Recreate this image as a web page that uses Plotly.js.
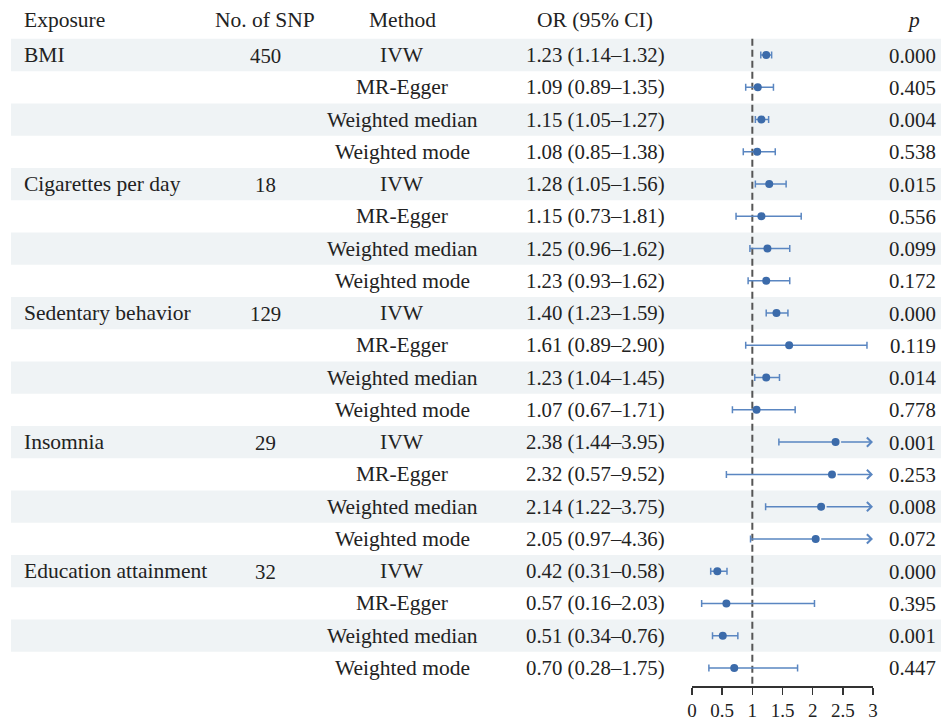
<!DOCTYPE html>
<html>
<head>
<meta charset="utf-8">
<script src="https://cdn.plot.ly/plotly-3.0.1.min.js"></script>
<style>html,body{margin:0;padding:0;background:#fff;}#chart{width:941px;height:720px;}</style>
</head>
<body>
<div id="chart"></div>
<script>
const exposures = ["BMI", "Cigarettes per day", "Sedentary behavior", "Insomnia", "Education attainment"];
const nSNP = ["450", "18", "129", "29", "32"];
const methods = ["IVW", "MR-Egger", "Weighted median", "Weighted mode"];
const orVals = [1.23, 1.09, 1.15, 1.08, 1.28, 1.15, 1.25, 1.23, 1.40, 1.61, 1.23, 1.07, 2.38, 2.32, 2.14, 2.05, 0.42, 0.57, 0.51, 0.70];
const ciLow  = [1.14, 0.89, 1.05, 0.85, 1.05, 0.73, 0.96, 0.93, 1.23, 0.89, 1.04, 0.67, 1.44, 0.57, 1.22, 0.97, 0.31, 0.16, 0.34, 0.28];
const ciHigh = [1.32, 1.35, 1.27, 1.38, 1.56, 1.81, 1.62, 1.62, 1.59, 2.90, 1.45, 1.71, 3.95, 9.52, 3.75, 4.36, 0.58, 2.03, 0.76, 1.75];
const pVals = ["0.000", "0.405", "0.004", "0.538", "0.015", "0.556", "0.099", "0.172", "0.000", "0.119", "0.014", "0.778", "0.001", "0.253", "0.008", "0.072", "0.000", "0.395", "0.001", "0.447"];
const xTicks = [0, 0.5, 1, 1.5, 2, 2.5, 3];
const xTickText = ["0", "0.5", "1", "1.5", "2", "2.5", "3"];

const W = 941;
const XMAX = 3;
const FONT = "Liberation Serif, Times New Roman, serif";
const TXT = "#222222";
const FSW = 21.5;
const FSN = 20.8;
const PTCOL = "#3c6baa";
const ERRCOL = "#5a86c1";

const n = orVals.length;
const rows = [];
for (let i = 0; i < n; i++) rows.push(i);

const fmt = v => v.toFixed(2);
const orText = orVals.map((v, i) => fmt(v) + " (" + fmt(ciLow[i]) + "\u2013" + fmt(ciHigh[i]) + ")");

const trace = {
  type: "scatter",
  mode: "markers",
  x: orVals,
  y: rows,
  marker: {color: PTCOL, size: 8},
  error_x: {
    type: "data",
    symmetric: false,
    array: orVals.map((v, i) => ciHigh[i] > XMAX ? 0 : ciHigh[i] - v),
    arrayminus: orVals.map((v, i) => v - ciLow[i]),
    color: ERRCOL,
    thickness: 1.5,
    width: 3.5
  },
  cliponaxis: false,
  hoverinfo: "skip",
  showlegend: false
};

const shapes = [];
for (let i = 0; i < n; i += 2) {
  shapes.push({type: "rect", xref: "paper", yref: "y", x0: 11 / W, x1: 1, y0: i - 0.5, y1: i + 0.5,
    fillcolor: "#eff3f5", line: {width: 0}, layer: "below"});
}
shapes.push({type: "line", xref: "x", yref: "y", x0: 1, x1: 1, y0: -0.5, y1: 19.56,
  line: {color: "#555555", width: 2, dash: "7px,4px"}, layer: "below"});

const annotations = [];
const txt = (x, y, text, anchor, size) => ({
  xref: "paper", yref: "y", x: x / W, y: y, text: text, showarrow: false,
  xanchor: anchor, yanchor: "middle", font: {family: FONT, size: size, color: TXT}
});

const HY = -1.08;
annotations.push(txt(22, HY, "Exposure", "left", FSW));
annotations.push(txt(265, HY, "No. of SNP", "center", FSW));
annotations.push(txt(402, HY, "Method", "center", FSW));
annotations.push(txt(595, HY, "OR (95% CI)", "center", FSW));
annotations.push(txt(913, HY, "<i>p</i>", "center", FSW));

for (let g = 0; g < exposures.length; g++) {
  annotations.push(txt(22, g * 4, exposures[g], "left", FSW));
  annotations.push(txt(265, g * 4, nSNP[g], "center", FSN));
}
for (let i = 0; i < n; i++) {
  annotations.push(txt(402, i, methods[i % 4], "center", FSW));
  annotations.push(txt(595, i, orText[i], "center", FSN));
  annotations.push(txt(938, i, pVals[i], "right", FSN));
  if (ciHigh[i] > XMAX) {
    annotations.push({xref: "x", yref: "y", axref: "x", ayref: "y", x: XMAX, y: i, ax: orVals[i], ay: i,
      text: "", showarrow: true, arrowhead: 4, arrowsize: 1.2, arrowwidth: 1.5, arrowcolor: ERRCOL,
      standoff: 0, startstandoff: 4});
  }
}

const layout = {
  width: W, height: 720,
  margin: {l: 0, r: 0, t: 0, b: 34, pad: 0},
  paper_bgcolor: "#ffffff", plot_bgcolor: "rgba(0,0,0,0)",
  xaxis: {domain: [692 / W, 873 / W], range: [0, XMAX], tickvals: xTicks, ticktext: xTickText,
    ticks: "outside", ticklen: 7, tickwidth: 1.5, tickcolor: "#333333", showline: true, linecolor: "#333333",
    linewidth: 1.5, showgrid: false, zeroline: false, fixedrange: true,
    tickfont: {family: FONT, size: 19, color: TXT}},
  yaxis: {range: [19.56, -1.705], visible: false, showgrid: false, zeroline: false, fixedrange: true},
  shapes: shapes,
  annotations: annotations,
  showlegend: false
};

Plotly.newPlot("chart", [trace], layout, {displayModeBar: false, staticPlot: true});
</script>
</body>
</html>
